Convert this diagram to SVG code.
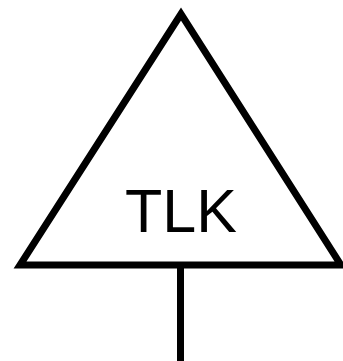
<svg xmlns="http://www.w3.org/2000/svg" width="343" height="361" viewBox="0 0 343 361">
<style>
.s{fill:none;stroke:#000;stroke-width:7;stroke-linejoin:miter;stroke-miterlimit:10}
.t{font-family:"Liberation Sans",Arial,sans-serif;font-size:61px;fill:#000;text-anchor:middle}
</style>
<rect width="343" height="361" fill="#fff"/>
<g id="connectors">
<line class="s" x1="180.5" y1="265" x2="180.5" y2="361"/>
</g>
<g id="tlk">
<polygon class="s" points="181,14 20,265 341,265"/>
<text class="t" x="181" y="232">TLK</text>
</g>
</svg>
